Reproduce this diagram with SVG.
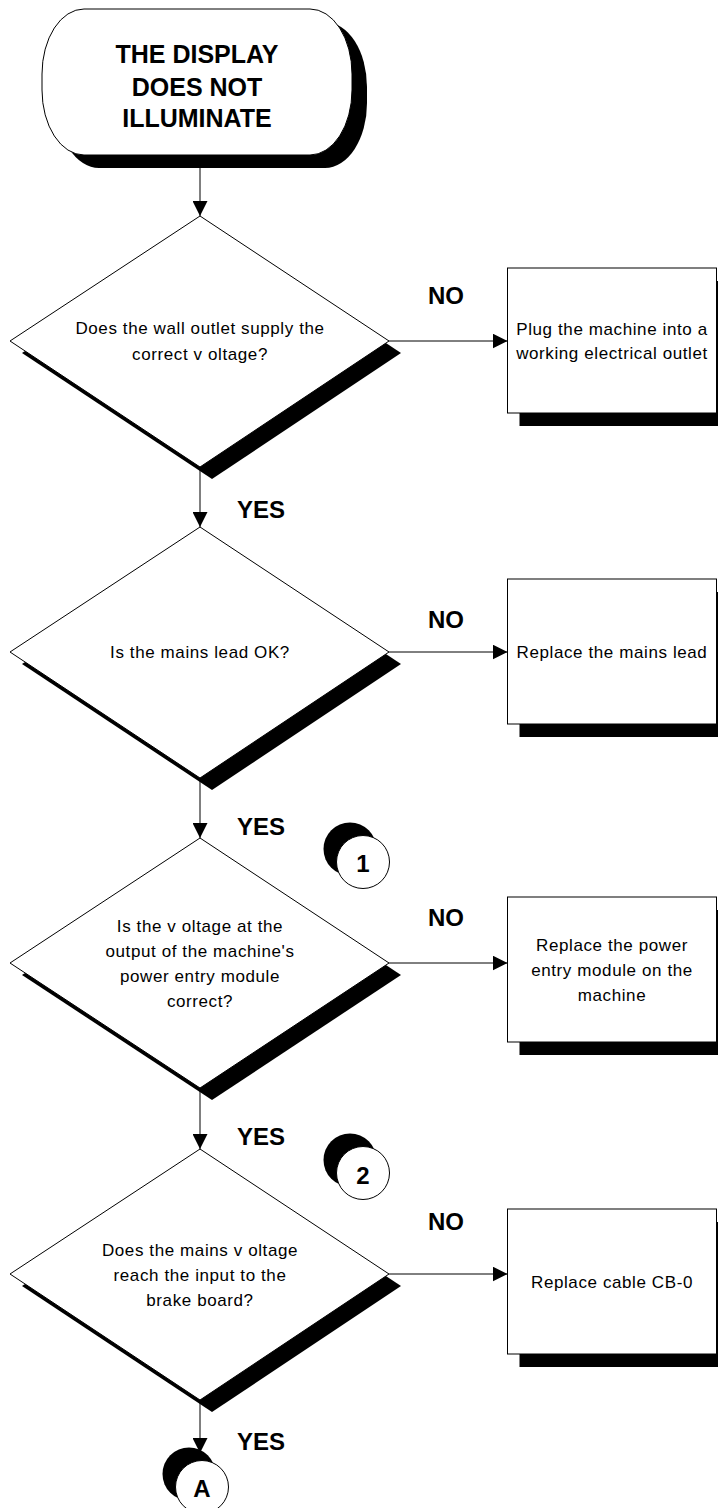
<svg xmlns="http://www.w3.org/2000/svg" width="718" height="1508" viewBox="0 0 718 1508">
<defs>
<style>
.sh{fill:#000;stroke:none}
.nd{fill:#fff;stroke:#000;stroke-width:1}
.t{font-family:"Liberation Sans",Arial,sans-serif;font-size:17px;text-anchor:middle;fill:#000;letter-spacing:0.6px}
.b{font-family:"Liberation Sans",Arial,sans-serif;font-weight:bold;fill:#000}
.lbl{font-size:24px}
.num{font-size:24px;text-anchor:middle}
.c{stroke:#000;stroke-width:1;fill:none;marker-end:url(#ah)}
</style>
<marker id="ah" markerUnits="userSpaceOnUse" markerWidth="15" markerHeight="15" refX="15" refY="7.5" orient="auto">
<path d="M0,0 L15,7.5 L0,15 Z" fill="#000"/>
</marker>
</defs>
<rect width="718" height="1508" fill="#fff"/>

<g id="connectors">
<path class="c" d="M200,160 L200,216"/>
<path class="c" d="M200,467 L200,527"/>
<path class="c" d="M200,778 L200,838"/>
<path class="c" d="M200,1088 L200,1149"/>
<path class="c" d="M200,1400 L200,1453"/>
<path class="c" d="M389,341 L507.5,341"/>
<path class="c" d="M389,652 L507.5,652"/>
<path class="c" d="M389,963 L507.5,963"/>
<path class="c" d="M389,1274 L507.5,1274"/>
</g>

<g id="start">
<rect class="sh" x="57" y="22" width="310" height="146" rx="42" ry="65"/>
<rect class="nd" x="42" y="9" width="310" height="146" rx="42" ry="65"/>
<text class="b" font-size="25" text-anchor="middle"><tspan x="197" y="63">THE DISPLAY</tspan><tspan x="197" y="96">DOES NOT</tspan><tspan x="197" y="127">ILLUMINATE</tspan></text>
</g>

<g id="q1">
<polygon class="sh" points="212,228 401,353 212,479 22,353"/>
<polygon class="nd" points="200,216 389,341 200,467 10,341"/>
<text class="t"><tspan x="200" y="334">Does the wall outlet supply the</tspan><tspan x="200" y="360">correct v oltage?</tspan></text>
</g>

<g id="a1">
<rect class="sh" x="519.5" y="281" width="209" height="145"/>
<rect class="nd" x="507.5" y="268" width="209" height="145"/>
<text class="t"><tspan x="612" y="335">Plug the machine into a</tspan><tspan x="612" y="359">working electrical outlet</tspan></text>
</g>

<g id="q2">
<polygon class="sh" points="212,539 401,664 212,790 22,664"/>
<polygon class="nd" points="200,527 389,652 200,778 10,652"/>
<text class="t" x="200" y="658">Is the mains lead OK?</text>
</g>

<g id="a2">
<rect class="sh" x="519.5" y="592" width="209" height="145"/>
<rect class="nd" x="507.5" y="579" width="209" height="145"/>
<text class="t" x="612" y="658">Replace the mains lead</text>
</g>

<g id="q3">
<polygon class="sh" points="212,850 401,975 212,1100 22,975"/>
<polygon class="nd" points="200,838 389,963 200,1088 10,963"/>
<text class="t"><tspan x="200" y="932">Is the v oltage at the</tspan><tspan x="200" y="957">output of the machine's</tspan><tspan x="200" y="982">power entry module</tspan><tspan x="200" y="1007">correct?</tspan></text>
</g>

<g id="a3">
<rect class="sh" x="519.5" y="910" width="209" height="145"/>
<rect class="nd" x="507.5" y="897" width="209" height="145"/>
<text class="t"><tspan x="612" y="951">Replace the power</tspan><tspan x="612" y="976">entry module on the</tspan><tspan x="612" y="1001">machine</tspan></text>
</g>

<g id="q4">
<polygon class="sh" points="212,1161 401,1286 212,1412 22,1286"/>
<polygon class="nd" points="200,1149 389,1274 200,1400 10,1274"/>
<text class="t"><tspan x="200" y="1256">Does the mains v oltage</tspan><tspan x="200" y="1281">reach the input to the</tspan><tspan x="200" y="1306">brake board?</tspan></text>
</g>

<g id="a4">
<rect class="sh" x="519.5" y="1222" width="209" height="145"/>
<rect class="nd" x="507.5" y="1209" width="209" height="145"/>
<text class="t" x="612" y="1288">Replace cable CB-0</text>
</g>

<g id="labels">
<text class="b lbl" x="428" y="304">NO</text>
<text class="b lbl" x="237" y="518">YES</text>
<text class="b lbl" x="428" y="628">NO</text>
<text class="b lbl" x="237" y="835">YES</text>
<text class="b lbl" x="428" y="926">NO</text>
<text class="b lbl" x="237" y="1145">YES</text>
<text class="b lbl" x="428" y="1230">NO</text>
<text class="b lbl" x="237" y="1450">YES</text>
</g>

<g id="ref1">
<circle class="sh" cx="350" cy="849" r="26.5"/>
<circle class="nd" cx="363" cy="862" r="26.5"/>
<text class="b num" x="363" y="872">1</text>
</g>

<g id="ref2">
<circle class="sh" cx="350" cy="1160" r="26.5"/>
<circle class="nd" cx="363" cy="1173" r="26.5"/>
<text class="b num" x="363" y="1184">2</text>
</g>

<g id="refA">
<circle class="sh" cx="189" cy="1474" r="26.5"/>
<circle class="nd" cx="202" cy="1487" r="26.5"/>
<text class="b num" x="202" y="1497">A</text>
</g>
</svg>
